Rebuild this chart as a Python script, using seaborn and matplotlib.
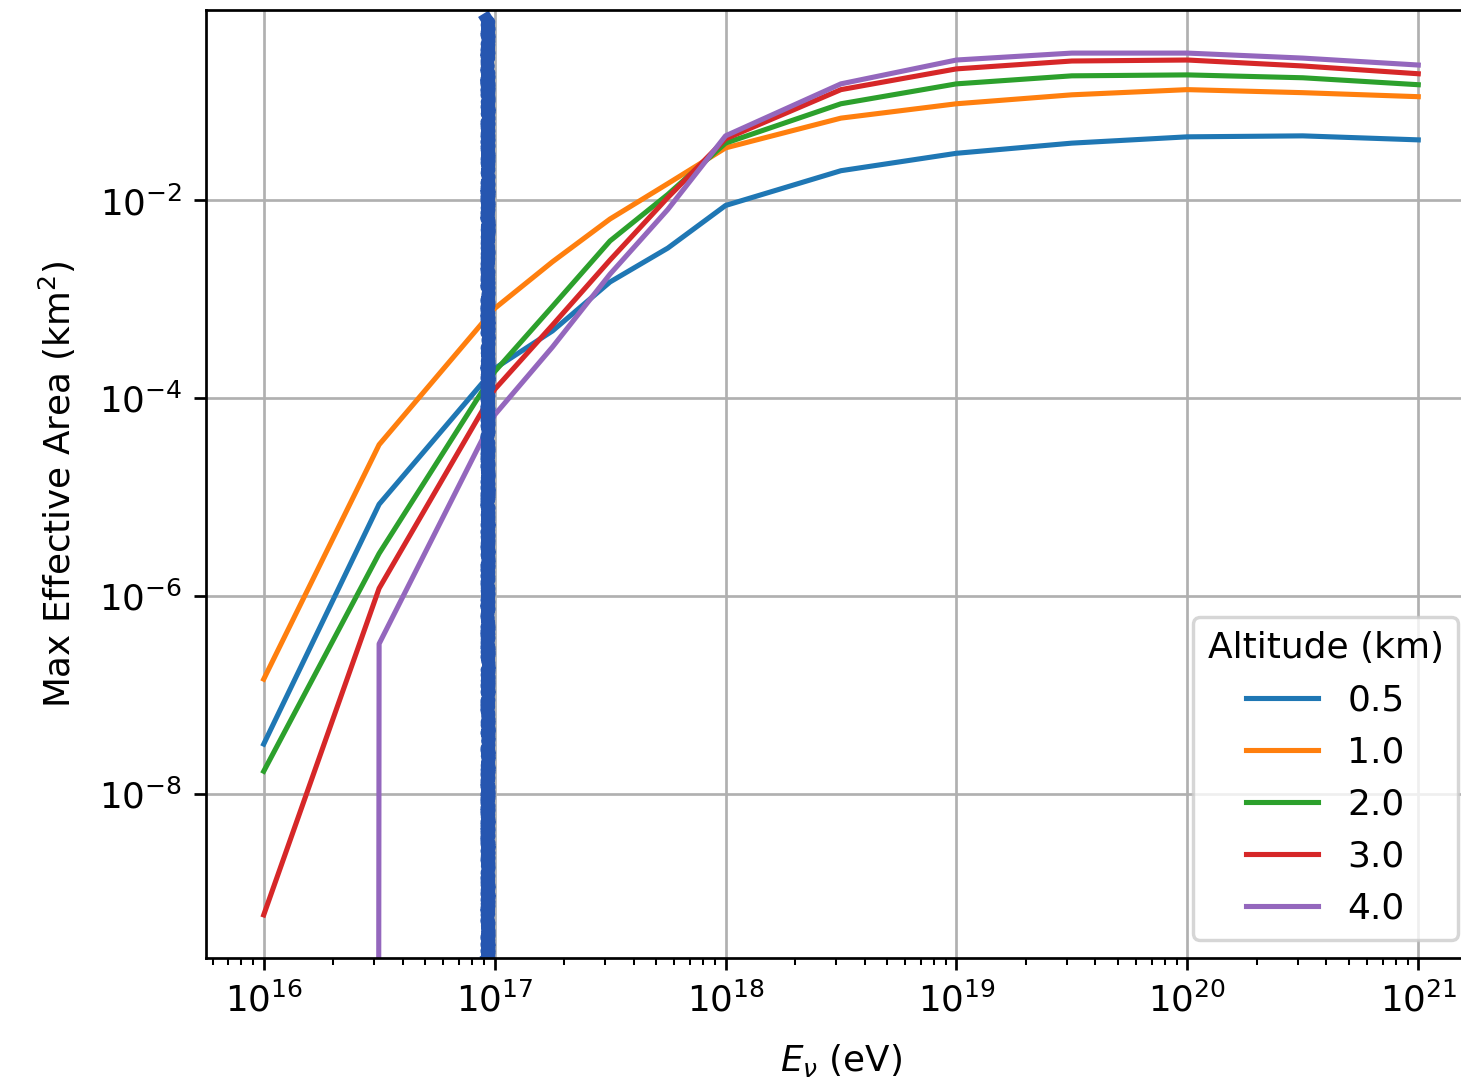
import numpy as np
import pandas as pd
import matplotlib
matplotlib.use('Agg')
import matplotlib.pyplot as plt
import seaborn as sns
from matplotlib.ticker import NullLocator, LogLocator


# neutrino energies (eV)
energies = [1e16, 3.16e16, 1e17, 1.78e17, 3.16e17, 5.62e17, 1e18,
            3.16e18, 1e19, 3.16e19, 1e20, 3.16e20, 1e21]

altitudes = ['0.5', '1.0', '2.0', '3.0', '4.0']

# max effective area (km^2) per altitude
area_05 = [3.2e-8, 8.5e-6, 2.0e-4, 4.8e-4, 1.5e-3, 3.3e-3, 8.9e-3,
           2.0e-2, 3.0e-2, 3.8e-2, 4.4e-2, 4.5e-2, 4.1e-2]
area_10 = [1.45e-7, 3.4e-5, 8.1e-4, 2.4e-3, 6.5e-3, 1.48e-2, 3.4e-2,
           6.8e-2, 9.5e-2, 0.117, 0.132, 0.123, 0.112]
area_20 = [1.7e-8, 2.7e-6, 1.86e-4, 8.5e-4, 3.9e-3, 1.15e-2, 3.8e-2,
           9.5e-2, 0.151, 0.182, 0.186, 0.174, 0.148]
area_30 = [6.0e-10, 1.2e-6, 1.23e-4, 5.5e-4, 2.5e-3, 1.07e-2, 4.2e-2,
           0.132, 0.214, 0.257, 0.263, 0.229, 0.191]
area_40 = [0.0, 3.3e-7, 6.8e-5, 3.3e-4, 1.8e-3, 8.1e-3, 4.5e-2,
           0.151, 0.263, 0.309, 0.309, 0.275, 0.234]

# hand drawn marker line
marked_energy = 9.4e16

rows = []
for alt, vals in zip(altitudes, [area_05, area_10, area_20, area_30, area_40]):
    for e, a in zip(energies, vals):
        rows.append({'E': e, 'A': a, 'Altitude (km)': alt})
df = pd.DataFrame(rows)

plt.rcParams['font.size'] = 10.5

fig = plt.figure(figsize=(1461 / 245, 1089 / 245), dpi=245)
ax = fig.add_axes([206 / 1461, 131 / 1089, 1270 / 1461, 948 / 1089])

sns.lineplot(data=df, x='E', y='A', hue='Altitude (km)', palette='tab10',
             errorbar=None, ax=ax)
ax.set_xscale('log')
ax.set_yscale('log')
ax.yaxis.set_major_locator(LogLocator(base=100))
ax.yaxis.set_minor_locator(NullLocator())
ax.autoscale_view()

vl = ax.axvline(marked_energy, ymin=0, ymax=0.99, color='#2656b0', lw=3.6)
vl.set_sketch_params(scale=1.5, length=2, randomness=3)

ax.grid(True)
ax.set_xlabel(r'$E_\nu$ (eV)', labelpad=7)
ax.set_ylabel(r'Max Effective Area (km$^2$)', labelpad=6)
sns.move_legend(ax, 'lower right', title='Altitude (km)',
                fontsize=10.6, title_fontsize=10.6)

plt.savefig('out.png', dpi=245)
